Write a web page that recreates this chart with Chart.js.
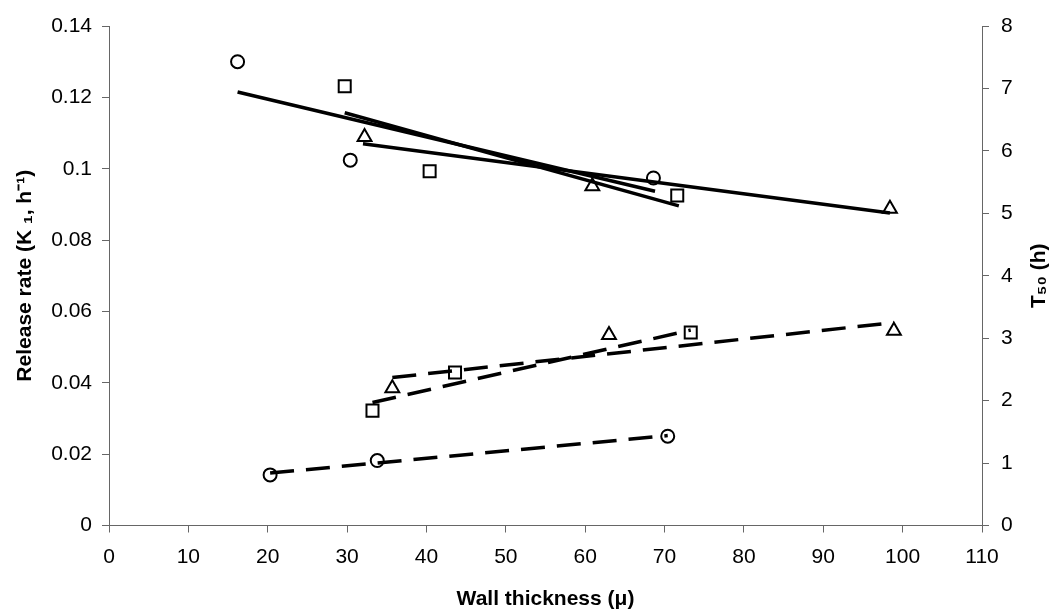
<!DOCTYPE html>
<html>
<head>
<meta charset="utf-8">
<script src="https://cdn.jsdelivr.net/npm/chart.js@4.4.1/dist/chart.umd.min.js"></script>
<style>
  html, body { margin: 0; padding: 0; background: #fff; }
  #wrap { width: 1056px; height: 616px; }
</style>
</head>
<body>
<div id="wrap"><canvas id="myChart"></canvas></div>
<script>
// release rate K1 (h-1) against wall thickness, left axis
var circleK_x = [16.2, 30.4, 68.6];
var circleK_y = [0.130, 0.1024, 0.0974];
var squareK_x = [29.7, 40.4, 71.6];
var squareK_y = [0.1231, 0.0993, 0.0925];
var triK_x = [32.2, 60.9, 98.4];
var triK_y = [0.1089, 0.0951, 0.0888];

// solid trend lines (start, end)
var circleK_fit_x = [16.2, 68.8];
var circleK_fit_y = [0.1215, 0.0937];
var squareK_fit_x = [29.7, 71.8];
var squareK_fit_y = [0.1157, 0.0896];
var triK_fit_x = [32.0, 98.4];
var triK_fit_y = [0.1070, 0.0876];

// T50 (h) against wall thickness, right axis
var circleT_x = [20.3, 33.8, 70.4];
var circleT_y = [0.81, 1.04, 1.43];
var squareT_x = [33.2, 43.6, 73.3];
var squareT_y = [1.84, 2.45, 3.09];
var triT_x = [35.7, 63.0, 98.9];
var triT_y = [2.20, 3.05, 3.12];

// dashed trend lines (start, end)
var circleT_fit_x = [20.3, 70.4];
var circleT_fit_y = [0.84, 1.44];
var squareT_fit_x = [33.2, 73.3];
var squareT_fit_y = [1.97, 3.13];
var triT_fit_x = [35.7, 98.9];
var triT_fit_y = [2.37, 3.25];

function pts(xs, ys) {
  return xs.map(function (x, i) { return { x: x, y: ys[i] }; });
}

function marks(xs, ys, style, radius, axis) {
  return {
    data: pts(xs, ys),
    yAxisID: axis,
    showLine: false,
    pointStyle: style,
    pointRadius: radius,
    pointBackgroundColor: '#fff',
    pointBorderColor: '#000',
    pointBorderWidth: 2
  };
}

function fit(xs, ys, axis, dashed) {
  return {
    data: pts(xs, ys),
    yAxisID: axis,
    showLine: true,
    pointRadius: 0,
    borderColor: '#000',
    borderWidth: 3.5,
    borderDash: dashed ? [24, 12] : []
  };
}

Chart.defaults.font.family = '"Liberation Sans", Arial, sans-serif';
Chart.defaults.color = '#000';

var axisGrey = '#666';
var tickFont = { size: 21 };
var titleFont = { size: 21, weight: 'bold' };

// right axis title reads bottom to top, like the left one
var rightTitle = {
  id: 'rightTitle',
  afterDraw: function (chart) {
    var s = chart.scales.y2;
    var c = chart.ctx;
    c.save();
    c.font = 'bold 21px "Liberation Sans", Arial, sans-serif';
    c.fillStyle = '#000';
    c.textAlign = 'center';
    c.textBaseline = 'middle';
    c.translate(s.right - 17, (s.top + s.bottom) / 2);
    c.rotate(-Math.PI / 2);
    c.fillText('T₅₀ (h)', 0, 0);
    c.restore();
  }
};

var ctx = document.getElementById('myChart');
var myChart = new Chart(ctx, {
  type: 'scatter',
  data: {
    datasets: [
      fit(circleK_fit_x, circleK_fit_y, 'y', false),
      fit(squareK_fit_x, squareK_fit_y, 'y', false),
      fit(triK_fit_x, triK_fit_y, 'y', false),
      fit(circleT_fit_x, circleT_fit_y, 'y2', true),
      fit(squareT_fit_x, squareT_fit_y, 'y2', true),
      fit(triT_fit_x, triT_fit_y, 'y2', true),
      marks(circleK_x, circleK_y, 'circle', 6.5, 'y'),
      marks(squareK_x, squareK_y, 'rect', 8.5, 'y'),
      marks(triK_x, triK_y, 'triangle', 8, 'y'),
      marks(circleT_x, circleT_y, 'circle', 6.5, 'y2'),
      marks(squareT_x, squareT_y, 'rect', 8.5, 'y2'),
      marks(triT_x, triT_y, 'triangle', 8, 'y2')
    ]
  },
  options: {
    responsive: true,
    maintainAspectRatio: false,
    animation: false,
    layout: { padding: { top: 26, left: 0, right: 0, bottom: 0 } },
    plugins: {
      legend: { display: false },
      tooltip: { enabled: false }
    },
    scales: {
      x: {
        type: 'linear',
        min: 0,
        max: 110,
        ticks: { stepSize: 10, font: tickFont, padding: 12 },
        grid: { drawOnChartArea: false, tickLength: 7, tickColor: axisGrey },
        border: { color: axisGrey },
        title: { display: true, text: 'Wall thickness (μ)', font: titleFont, padding: { top: 0, bottom: 4 } },
        afterFit: function (s) { s.height = 90.5; }
      },
      y: {
        position: 'left',
        min: 0,
        max: 0.14,
        ticks: {
          stepSize: 0.02,
          font: tickFont,
          padding: 10,
          callback: function (v) { return String(Number(v.toFixed(2))); }
        },
        grid: { drawOnChartArea: false, tickLength: 7, tickColor: axisGrey },
        border: { color: axisGrey },
        title: { display: true, text: 'Release rate (K ₁, h⁻¹)', font: titleFont, padding: { top: 13, bottom: 0 } },
        afterFit: function (s) { s.width = 109; }
      },
      y2: {
        position: 'right',
        min: 0,
        max: 8,
        ticks: { stepSize: 1, font: tickFont, padding: 12 },
        grid: { drawOnChartArea: false, tickLength: 7, tickColor: axisGrey },
        border: { color: axisGrey },
        afterFit: function (s) { s.width = 74; }
      }
    }
  },
  plugins: [rightTitle]
});
</script>
</body>
</html>
